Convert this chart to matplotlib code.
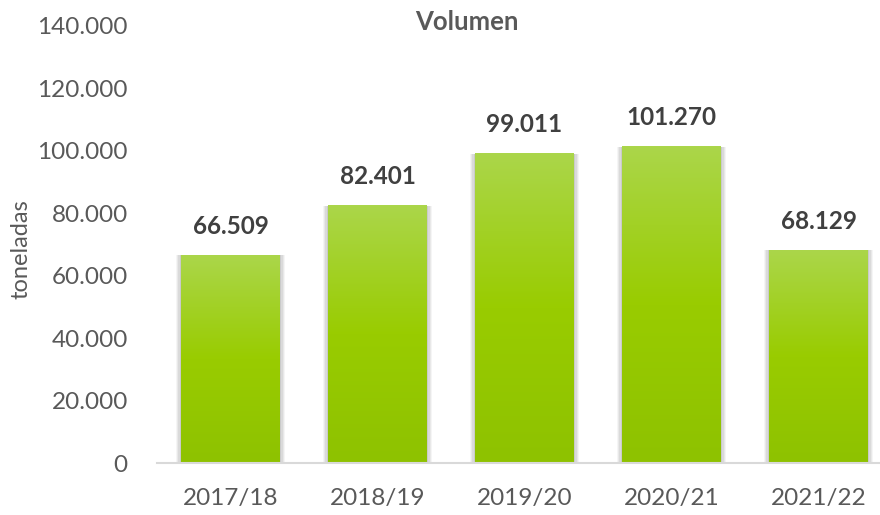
import matplotlib.pyplot as plt
import numpy as np
from matplotlib.colors import LinearSegmentedColormap
from matplotlib.ticker import FuncFormatter

# data
campanas = ['2017/18', '2018/19', '2019/20', '2020/21', '2021/22']
volumen = [66509, 82401, 99011, 101270, 68129]
etiquetas = ['66.509', '82.401', '99.011', '101.270', '68.129']

plt.rcParams['font.family'] = ['Lato', 'DejaVu Sans']

fig = plt.figure(figsize=(8.8, 5.15), dpi=100)
ax = fig.add_axes([157 / 880, 52 / 515, 723 / 880, 437 / 515])

x = np.arange(len(campanas))
bars = ax.bar(x, volumen, width=0.67, color='none', zorder=3)

# gradient fill + soft shadow for each bar
cmap = LinearSegmentedColormap.from_list('verde', ['#8ec200', '#99cc00', '#abd64a'])
grad = np.linspace(0, 1, 256).reshape(-1, 1)
for b in bars:
    bx, bw, bh = b.get_x(), b.get_width(), b.get_height()
    for i, a in enumerate([0.04, 0.05, 0.06, 0.07]):
        d = 0.035 - i * 0.008
        ax.add_patch(plt.Rectangle((bx - d, 0), bw + 2 * d, bh + d * 1500,
                                   color='#000000', alpha=a, lw=0, zorder=2))
    ax.imshow(grad, extent=(bx, bx + bw, 0, bh), origin='lower', cmap=cmap,
              aspect='auto', zorder=3)

for b, t in zip(bars, etiquetas):
    ax.annotate(t, (b.get_x() + b.get_width() / 2, b.get_height()),
                xytext=(0, 21), textcoords='offset points', ha='center', va='center',
                fontsize=17.5, fontweight='bold', color='#404040')

ax.set_xlim(-0.5, -0.5 + 723 / 147)
ax.set_ylim(0, 140000)
ax.set_yticks(np.arange(0, 140001, 20000))
ax.yaxis.set_major_formatter(FuncFormatter(lambda v, p: f'{int(v):,}'.replace(',', '.')))
ax.set_xticks(x)
ax.set_xticklabels(campanas)
ax.tick_params(axis='both', length=0, labelsize=17.5, colors='#595959')
ax.tick_params(axis='x', pad=18)
ax.tick_params(axis='y', pad=21)

for s in ['top', 'right', 'left']:
    ax.spines[s].set_visible(False)
ax.spines['bottom'].set_color('#d9d9d9')
ax.spines['bottom'].set_linewidth(1.5)
ax.spines['bottom'].set_zorder(4)

ax.set_ylabel('toneladas', fontsize=17, color='#595959')
ax.yaxis.set_label_coords(-126 / 723, 0.49)
fig.text(467 / 880, 1 - 22 / 515, 'Volumen', ha='center', va='center',
         fontsize=18.5, fontweight='bold', color='#595959')

fig.savefig('out.png', dpi=100)
